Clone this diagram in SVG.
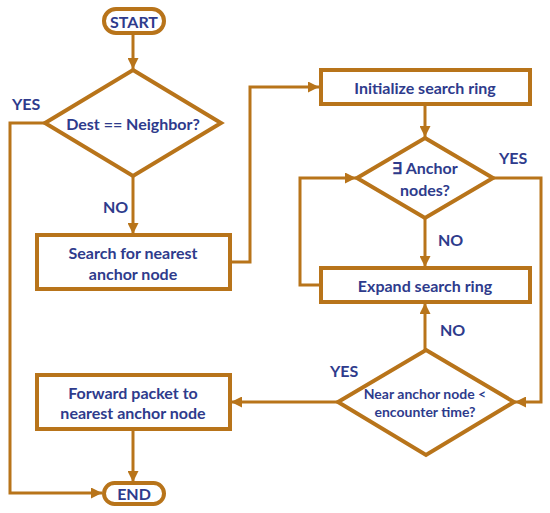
<svg xmlns="http://www.w3.org/2000/svg" width="550" height="513" viewBox="0 0 550 513">
<defs>
<marker id="ah" viewBox="0 0 10 10" refX="10" refY="5" markerWidth="11" markerHeight="11" markerUnits="userSpaceOnUse" orient="auto">
<path d="M0,0 L10,5 L0,10 z" fill="#b8741a"/>
</marker>
<style>
.s{fill:#fff;stroke:#b8741a;stroke-width:4}
.c{fill:none;stroke:#b8741a;stroke-width:3}
.t{font-family:Lato,"Liberation Sans",sans-serif;font-weight:bold;font-size:16px;fill:#2e3b8c;text-anchor:middle;dominant-baseline:central}
.l{font-family:Lato,"Liberation Sans",sans-serif;font-weight:bold;font-size:16px;fill:#2e3b8c}
</style>
</defs>
<rect width="550" height="513" fill="#fff"/>
<g id="connectors">
<path class="c" d="M133,33 V69" marker-end="url(#ah)"/>
<path class="c" d="M45,123 H10 V493 H102" marker-end="url(#ah)"/>
<path class="c" d="M133,175 V234" marker-end="url(#ah)"/>
<path class="c" d="M230,262 H250 V87 H319" marker-end="url(#ah)"/>
<path class="c" d="M425,104 V137" marker-end="url(#ah)"/>
<path class="c" d="M425,218 V267" marker-end="url(#ah)"/>
<path class="c" d="M320,285 H300 V178 H356" marker-end="url(#ah)"/>
<path class="c" d="M493,178 H541 V402 H515" marker-end="url(#ah)"/>
<path class="c" d="M425,350 V303" marker-end="url(#ah)"/>
<path class="c" d="M338,402 H231" marker-end="url(#ah)"/>
<path class="c" d="M133,429 V482" marker-end="url(#ah)"/>
<text class="l" x="12" y="110">YES</text>
<text class="l" x="103" y="213">NO</text>
<text class="l" x="499" y="164">YES</text>
<text class="l" x="438" y="246">NO</text>
<text class="l" x="440" y="336">NO</text>
<text class="l" x="330" y="377">YES</text>
</g>
<g id="start">
<rect class="s" x="104" y="9" width="60" height="24" rx="12"/>
<text class="t" x="134" y="21">START</text>
</g>
<g id="dest">
<path class="s" d="M133,70 L221,123 L133,176 L45,123 Z"/>
<text class="t" x="133" y="123">Dest == Neighbor?</text>
</g>
<g id="search">
<rect class="s" x="37" y="235" width="193" height="54"/>
<text class="t" x="133" y="252">Search for nearest</text>
<text class="t" x="133" y="273">anchor node</text>
</g>
<g id="init">
<rect class="s" x="321" y="70" width="209" height="34"/>
<text class="t" x="425" y="87">Initialize search ring</text>
</g>
<g id="anchor">
<path class="s" d="M425,138 L493,178 L425,218 L357,178 Z"/>
<text class="t" x="425" y="167">∃ Anchor</text>
<text class="t" x="425" y="189">nodes?</text>
</g>
<g id="expand">
<rect class="s" x="321" y="268" width="209" height="34"/>
<text class="t" x="425" y="285">Expand search ring</text>
</g>
<g id="near">
<path class="s" d="M426,350 L514,402 L426,455 L338,402 Z"/>
<text class="t" x="425" y="393" style="font-size:14px">Near anchor node &lt;</text>
<text class="t" x="425" y="411" style="font-size:14px">encounter time?</text>
</g>
<g id="forward">
<rect class="s" x="37" y="375" width="193" height="54"/>
<text class="t" x="133" y="392">Forward packet to</text>
<text class="t" x="133" y="412">nearest anchor node</text>
</g>
<g id="end">
<rect class="s" x="104" y="483" width="60" height="21" rx="10.5"/>
<text class="t" x="134" y="493.5">END</text>
</g>
</svg>
